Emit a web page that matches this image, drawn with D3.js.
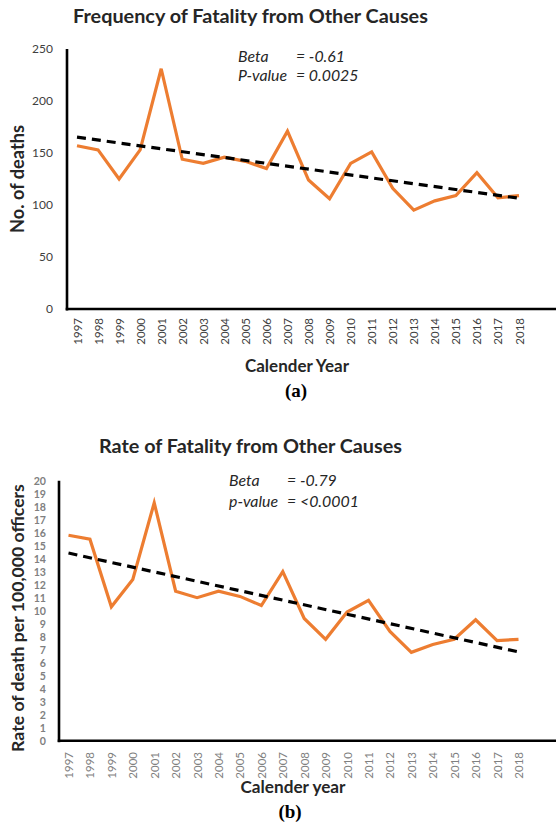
<!DOCTYPE html>
<html><head><meta charset="utf-8">
<script src="https://cdn.jsdelivr.net/npm/d3@7"></script>
<style>body{margin:0;background:#fff}svg{display:block}</style>
</head><body>
<svg id="c" width="556" height="834"></svg>
<script>
const years = [1997,1998,1999,2000,2001,2002,2003,2004,2005,2006,2007,2008,2009,2010,2011,2012,2013,2014,2015,2016,2017,2018];
const deaths = [157,153,125,153,231,144,140,146,142,135,171,124,106,140,151,116,95,104,109,131,107,109];
const rates = [15.8,15.5,10.3,12.4,18.3,11.5,11.0,11.5,11.1,10.4,13.0,9.4,7.8,9.9,10.8,8.4,6.8,7.4,7.8,9.3,7.7,7.8];
const ticksA = [0,50,100,150,200,250];
const ticksB = [0,1,2,3,4,5,6,7,8,9,10,11,12,13,14,15,16,17,18,19,20];

const F = "Lato, 'Open Sans', sans-serif";
const svg = d3.select("#c");

function fitW(sel, w){
  const fs = +sel.attr("font-size");
  const cur = sel.node().getComputedTextLength();
  if (cur > 0) sel.attr("font-size", (fs * w / cur).toFixed(2));
  return sel;
}

function fit(vals){
  const n = vals.length, xs = d3.range(n);
  const mx = d3.mean(xs), my = d3.mean(vals);
  const b = d3.sum(xs, i => (i-mx)*(vals[i]-my)) / d3.sum(xs, i => (i-mx)*(i-mx));
  const a = my - b*mx;
  return xs.map(i => a + b*i);
}

function chart(o){
  const g = svg.append("g");
  const x = d3.scalePoint().domain(years).range(o.xr);
  const y = d3.scaleLinear().domain([0, o.max]).range([o.bottom, o.top]);
  // title
  fitW(g.append("text").attr("x", o.tx).attr("y", o.ty).attr("text-anchor","middle")
    .attr("font-family",F).attr("font-weight","bold").attr("font-size",17).attr("fill","#262626").text(o.title), o.tw);
  // y axis ticks
  const ya = d3.axisLeft(y).tickValues(o.ticks).tickSize(0).tickPadding(0);
  const yg = g.append("g").attr("transform",`translate(${o.tickRight},0)`).call(ya);
  yg.select(".domain").remove();
  yg.selectAll("text").attr("font-family",F).attr("font-size",o.ytfs).attr("fill",o.ytc).attr("font-weight",o.ytw);
  // x axis ticks
  const xa = d3.axisBottom(x).tickSize(0).tickPadding(0);
  const xg = g.append("g").attr("transform",`translate(0,${o.xlabY})`).call(xa);
  xg.select(".domain").remove();
  xg.selectAll("text").attr("transform","rotate(-90)").attr("text-anchor","end")
    .attr("x",0).attr("y",0).attr("dy","0.35em")
    .attr("font-family",F).attr("font-size",11.5).attr("fill",o.xtc).attr("font-weight",o.xtw);
  // axes lines
  g.append("line").attr("x1",o.left).attr("x2",o.left).attr("y1",o.top).attr("y2",o.bottom+1.5).attr("stroke","#000").attr("stroke-width",2.6);
  g.append("line").attr("x1",o.left-1.3).attr("x2",556).attr("y1",o.bottom).attr("y2",o.bottom).attr("stroke","#000").attr("stroke-width",2.6);
  // data line
  const line = d3.line().x((d,i)=>x(years[i])).y(d=>y(d));
  g.append("path").datum(o.vals).attr("d",line).attr("fill","none").attr("stroke","#ED7D31").attr("stroke-width",3.2).attr("stroke-linejoin","miter");
  // trend
  const tr = fit(o.vals);
  g.append("path").datum([tr[0], tr[tr.length-1]])
    .attr("d", d3.line().x((d,i)=> i===0 ? x(years[0]) : x(years[years.length-1])).y(d=>y(d)))
    .attr("fill","none").attr("stroke","#000").attr("stroke-width",3.2).attr("stroke-dasharray","9,6");
  // annotations
  const an = g.append("g").attr("font-family",F).attr("font-style","italic").attr("fill","#262626");
  const pl = an.append("text").attr("x",o.ax).attr("y",o.ay+o.agap).attr("font-size",14).text(o.pl);
  fitW(pl, o.plw);
  const afs = pl.attr("font-size");
  an.append("text").attr("x",o.ax).attr("y",o.ay).attr("font-size",afs).text("Beta");
  an.append("text").attr("x",o.ax2).attr("y",o.ay).attr("font-size",afs).text(o.beta);
  an.append("text").attr("x",o.ax2).attr("y",o.ay+o.agap).attr("font-size",afs).text(o.pv);
  // axis titles
  fitW(g.append("text").attr("transform",`translate(${o.ytx},${o.yty}) rotate(-90)`).attr("text-anchor","middle")
    .attr("font-family",F).attr("font-weight","bold").attr("font-size",14.5).attr("fill","#262626").text(o.ytitle), o.ytw2);
  fitW(g.append("text").attr("x",o.xtx).attr("y",o.xty).attr("text-anchor","middle")
    .attr("font-family",F).attr("font-weight","bold").attr("font-size",14.5).attr("fill","#262626").text(o.xtitle), o.xtw2);
  g.append("text").attr("x",o.lx).attr("y",o.ly).attr("text-anchor","middle")
    .attr("font-family","'Liberation Serif', 'Times New Roman', serif").attr("font-weight","bold").attr("font-size",19).attr("fill","#000").text(o.label);
}

chart({title:"Frequency of Fatality from Other Causes", tx:250.5, ty:23, tw:355,
  vals:deaths, max:250, ticks:ticksA, top:49, bottom:309, left:67, xr:[77,519],
  tickRight:53, ytfs:12, ytc:"#404040", ytw:"normal",
  xlabY:318, xtc:"#404040", xtw:"normal",
  ax:238, ax2:296, ay:62, agap:19, plw:49, beta:"= -0.61", pl:"P-value", pv:"= 0.0025",
  ytitle:"No. of deaths", ytx:24, yty:179, ytw2:108,
  xtitle:"Calender Year", xtx:297, xty:372, xtw2:104, label:"(a)", lx:296, ly:397});

chart({title:"Rate of Fatality from Other Causes", tx:250.5, ty:453, tw:303,
  vals:rates, max:20, ticks:ticksB, top:480.7, bottom:740.7, left:59, xr:[68.5,518.5],
  tickRight:46, ytfs:10.6, ytc:"#808080", ytw:"bold",
  xlabY:752, xtc:"#808080", xtw:"normal",
  ax:229, ax2:287, ay:486, agap:21, plw:49, beta:"= -0.79", pl:"p-value", pv:"= <0.0001",
  ytitle:"Rate of death per 100,000 officers", ytx:24, yty:618, ytw2:268,
  xtitle:"Calender year", xtx:293, xty:793, xtw2:105, label:"(b)", lx:290, ly:818});
</script>
</body></html>
